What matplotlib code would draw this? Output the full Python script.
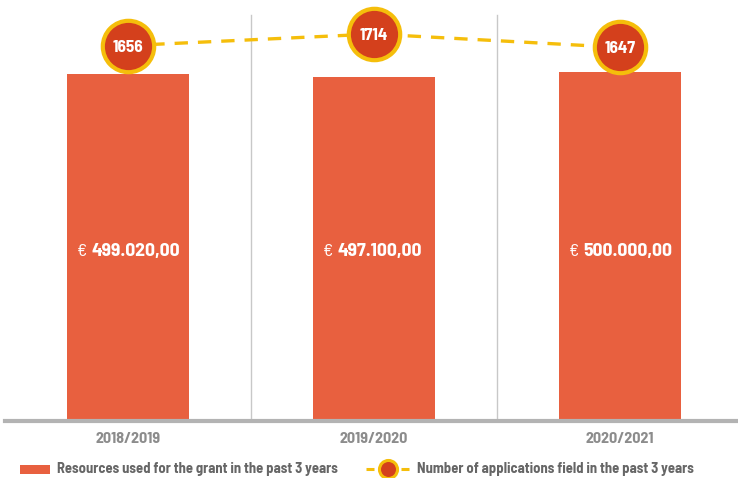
import matplotlib
matplotlib.use("Agg")
import matplotlib.pyplot as plt
from matplotlib.patches import Rectangle
from matplotlib.lines import Line2D
from matplotlib import font_manager

# Data
years = ["2018/2019", "2019/2020", "2020/2021"]
resources = [499020, 497100, 500000]
resource_labels = ["499.020,00", "497.100,00", "500.000,00"]
applications = [1656, 1714, 1647]
legend_labels = ["Resources used for the grant in the past 3 years",
                 "Number of applications field in the past 3 years"]

BAR_COLOR = "#E8603F"
DOT_COLOR = "#D4401C"
RING_COLOR = "#F5BE0B"
GRAY_TXT = "#8C8C8C"
LEGEND_TXT = "#666666"

names = {f.name for f in font_manager.fontManager.ttflist}
FONT = "Barlow Semi Condensed" if "Barlow Semi Condensed" in names else "DejaVu Sans"
plt.rcParams["font.family"] = [FONT, "DejaVu Sans"]

W, H = 738, 478
fig = plt.figure(figsize=(W / 100, H / 100), dpi=100)
ax = fig.add_axes([5 / W, 1 - 421 / H, 738 / W, 421 / H])

x = list(range(len(years)))
ax.bar(x, resources, width=0.496, color=BAR_COLOR, zorder=2)
ax.set_xlim(-0.5, 2.5)
ax.set_ylim(297580, 541760)

for sep in [0.5, 1.5]:
    ax.plot([sep, sep], [297580, 541760 - 15 * 580], color="#C8C8C8", lw=1, zorder=1)

for s in ["top", "right", "left"]:
    ax.spines[s].set_visible(False)
ax.spines["bottom"].set_color("#B3B3B3")
ax.spines["bottom"].set_linewidth(3)
ax.set_yticks([])
ax.set_xticks(x)
ax.set_xticklabels(years, fontsize=11.5, fontweight="bold", color=GRAY_TXT)
ax.tick_params(axis="x", length=0, pad=8)

mid = (297580 + 500000) / 2
for i, lab in enumerate(resource_labels):
    ax.annotate("€", (i, mid), xytext=(-41, -5), textcoords="offset pixels",
                ha="right", va="center", color="white", fontsize=13, zorder=4)
    ax.annotate(lab, (i, mid), xytext=(-37, -5), textcoords="offset pixels",
                ha="left", va="center", color="white", fontsize=14,
                fontweight="bold", zorder=4)

ax2 = ax.twinx()
ax2.set_ylim(-221, 1884)
ax2.set_yticks([])
for s in ax2.spines.values():
    s.set_visible(False)
ax2.plot(x, applications, color=RING_COLOR, lw=2.4, dashes=(4, 3), zorder=3)
ax2.plot(x, applications, "o", ms=37, mfc=DOT_COLOR, mec=RING_COLOR, mew=3,
         zorder=4, linestyle="none")
for i, v in enumerate(applications):
    ax2.text(i, v, str(v), ha="center", va="center_baseline", color="white",
             fontsize=12.5, fontweight="bold", zorder=5)

# legend drawn by hand
fig.add_artist(Rectangle((20 / W, 1 - 474 / H), 30 / W, 9 / H,
                         transform=fig.transFigure, color=BAR_COLOR, lw=0))
fig.text(57 / W, 1 - 469 / H, legend_labels[0], ha="left", va="center",
         fontsize=10.5, fontweight="bold", color=LEGEND_TXT)
ly = 1 - 469 / H
for x0, x1 in [(366, 374), (401, 409)]:
    fig.add_artist(Line2D([x0 / W, x1 / W], [ly, ly], transform=fig.transFigure,
                          color=RING_COLOR, lw=2.2, solid_capstyle="butt"))
fig.add_artist(Line2D([388 / W], [ly], transform=fig.transFigure,
                      marker="o", ms=13, mfc=DOT_COLOR, mec=RING_COLOR, mew=2.2))
fig.text(417 / W, 1 - 469 / H, legend_labels[1], ha="left", va="center",
         fontsize=10.5, fontweight="bold", color=LEGEND_TXT)

fig.savefig("out.png", dpi=100)
